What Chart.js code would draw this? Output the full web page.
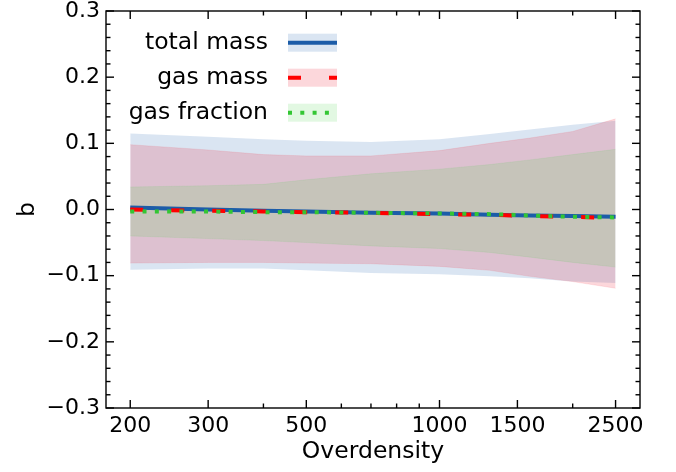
<!DOCTYPE html>
<html>
<head>
<meta charset="utf-8">
<script src="https://cdn.jsdelivr.net/npm/chart.js@4"></script>
<style>
  html, body { margin: 0; padding: 0; background: #fff; }
  #wrap { width: 676px; height: 472px; }
</style>
</head>
<body>
<div id="wrap"><canvas id="biasChart" width="676" height="472"></canvas></div>
<script>
// values
const overdensity = [200, 300, 400, 500, 700, 1000, 1300, 1600, 2000, 2500];

const totalMassB  = [0.003, 0.000, -0.002, -0.003, -0.005, -0.006, -0.008, -0.009, -0.010, -0.011];
const totalMassHi = [0.115, 0.110, 0.106, 0.104, 0.102, 0.106, 0.114, 0.121, 0.128, 0.134];
const totalMassLo = [-0.091, -0.089, -0.089, -0.092, -0.096, -0.098, -0.101, -0.104, -0.109, -0.111];

const gasMassB  = [0.000, -0.002, -0.003, -0.004, -0.005, -0.007, -0.008, -0.010, -0.011, -0.013];
const gasMassHi = [0.098, 0.090, 0.083, 0.081, 0.081, 0.089, 0.100, 0.108, 0.118, 0.137];
const gasMassLo = [-0.081, -0.080, -0.080, -0.081, -0.082, -0.086, -0.092, -0.101, -0.109, -0.119];

const gasFracB  = [-0.003, -0.003, -0.004, -0.004, -0.005, -0.006, -0.007, -0.009, -0.011, -0.012];
const gasFracHi = [0.034, 0.036, 0.038, 0.045, 0.054, 0.061, 0.068, 0.075, 0.083, 0.091];
const gasFracLo = [-0.040, -0.044, -0.047, -0.050, -0.055, -0.059, -0.065, -0.072, -0.080, -0.087];

const xTickLabels = [200, 300, 500, 1000, 1500, 2500];
const xMinorTicks = [400, 600, 700, 800, 900, 2000];
const yTickLabels = [-0.3, -0.2, -0.1, 0, 0.1, 0.2, 0.3];

const BLUE = '#1c5ca8';
const RED = '#ff0000';
const GREEN = '#33c633';
const BLUE_BAND = 'rgba(50, 110, 185, 0.18)';
const RED_BAND = 'rgba(240, 20, 40, 0.17)';
const GREEN_BAND = 'rgba(60, 210, 60, 0.15)';

const FONT = '"DejaVu Sans", sans-serif';

function pts(ys) {
    return overdensity.map((x, i) => ({ x: x, y: ys[i] }));
}

function fmtY(v) {
    const s = (Math.abs(v) < 1e-9 ? 0 : v).toFixed(1);
    return s.replace('-', '\u2212');
}

// inward ticks on all sides, frame and the legend, matplotlib style
const decorPlugin = {
    id: 'decor',
    afterDraw(chart) {
        const ctx = chart.ctx;
        const a = chart.chartArea;
        const xs = chart.scales.x;
        const ys = chart.scales.y;
        ctx.save();
        ctx.strokeStyle = '#000';
        ctx.lineWidth = 1.4;

        const tick = (x1, y1, x2, y2) => {
            ctx.beginPath();
            ctx.moveTo(x1, y1);
            ctx.lineTo(x2, y2);
            ctx.stroke();
        };

        xTickLabels.forEach(v => {
            const px = xs.getPixelForValue(v);
            tick(px, a.bottom, px, a.bottom - 8);
            tick(px, a.top, px, a.top + 8);
        });
        xMinorTicks.forEach(v => {
            const px = xs.getPixelForValue(v);
            tick(px, a.bottom, px, a.bottom - 4.5);
            tick(px, a.top, px, a.top + 4.5);
        });
        for (let k = -15; k <= 15; k++) {
            const py = ys.getPixelForValue(k * 0.02);
            const len = (k % 5 === 0) ? 8 : 4.5;
            tick(a.left, py, a.left + len, py);
            tick(a.right, py, a.right - len, py);
        }
        ctx.strokeRect(a.left, a.top, a.right - a.left, a.bottom - a.top);

        // legend: label first, handle after
        const entries = [
            { label: 'total mass', band: BLUE_BAND, line: BLUE, dash: [], y: 42.7 },
            { label: 'gas mass', band: RED_BAND, line: RED, dash: [13, 28], y: 77.7 },
            { label: 'gas fraction', band: GREEN_BAND, line: GREEN, dash: [4, 8.3], y: 112.7 }
        ];
        ctx.font = '23.5px ' + FONT;
        ctx.textAlign = 'right';
        ctx.textBaseline = 'middle';
        entries.forEach(e => {
            ctx.fillStyle = '#000';
            ctx.fillText(e.label, 268, e.y);
            ctx.fillStyle = e.band;
            ctx.fillRect(288, e.y - 9, 49, 18);
            ctx.strokeStyle = e.line;
            ctx.lineWidth = 4;
            ctx.setLineDash(e.dash);
            ctx.beginPath();
            ctx.moveTo(288, e.y);
            ctx.lineTo(337, e.y);
            ctx.stroke();
            ctx.setLineDash([]);
        });
        ctx.restore();
    }
};

const ctx = document.getElementById('biasChart').getContext('2d');
Chart.defaults.color = '#000';
Chart.defaults.font.family = FONT;

const lineBase = { pointRadius: 0, tension: 0, fill: false, borderWidth: 4 };
const bandBase = { pointRadius: 0, tension: 0, borderWidth: 0.6 };

new Chart(ctx, {
    type: 'line',
    data: {
        datasets: [
            // first dataset is drawn on top
            { ...lineBase, label: 'gas fraction', data: pts(gasFracB), borderColor: GREEN, borderDash: [4, 8.3] },
            { ...lineBase, label: 'gas mass', data: pts(gasMassB), borderColor: RED, borderDash: [13, 28] },
            { ...lineBase, label: 'total mass', data: pts(totalMassB), borderColor: BLUE },
            { ...bandBase, data: pts(gasFracHi), borderColor: GREEN_BAND, backgroundColor: GREEN_BAND, fill: '+1' },
            { ...bandBase, data: pts(gasFracLo), borderColor: GREEN_BAND, fill: false },
            { ...bandBase, data: pts(gasMassHi), borderColor: RED_BAND, backgroundColor: RED_BAND, fill: '+1' },
            { ...bandBase, data: pts(gasMassLo), borderColor: RED_BAND, fill: false },
            { ...bandBase, data: pts(totalMassHi), borderColor: 'rgba(0,0,0,0)', backgroundColor: BLUE_BAND, fill: '+1' },
            { ...bandBase, data: pts(totalMassLo), borderColor: 'rgba(0,0,0,0)', fill: false }
        ]
    },
    options: {
        responsive: false,
        animation: false,
        layout: { padding: { left: 0, right: 36, top: 11, bottom: 0 } },
        plugins: {
            legend: { display: false },
            tooltip: { enabled: false }
        },
        scales: {
            x: {
                type: 'logarithmic',
                min: 176.3,
                max: 2839,
                grid: { display: false, drawTicks: false },
                border: { display: false },
                afterBuildTicks: (scale) => {
                    scale.ticks = xTickLabels.map(v => ({ value: v }));
                },
                afterFit: (scale) => {
                    scale.height = 64;
                    scale.paddingLeft = 0;
                    scale.paddingRight = 0;
                },
                ticks: {
                    autoSkip: false,
                    maxRotation: 0,
                    padding: 5,
                    font: { size: 22 },
                    callback: (v) => String(v)
                },
                title: {
                    display: true,
                    text: 'Overdensity',
                    font: { size: 23.5 },
                    padding: { top: 0, bottom: 6 }
                }
            },
            y: {
                min: -0.3,
                max: 0.3,
                grid: { display: false, drawTicks: false },
                border: { display: false },
                afterBuildTicks: (scale) => {
                    scale.ticks = yTickLabels.map(v => ({ value: v }));
                },
                afterFit: (scale) => {
                    scale.width = 106;
                    scale.paddingTop = 0;
                    scale.paddingBottom = 0;
                },
                ticks: {
                    padding: 6,
                    font: { size: 22 },
                    callback: (v) => fmtY(v)
                },
                title: {
                    display: true,
                    text: 'b',
                    font: { size: 23.5 },
                    padding: { top: 14, bottom: 0 }
                }
            }
        }
    },
    plugins: [decorPlugin]
});
</script>
</body>
</html>
